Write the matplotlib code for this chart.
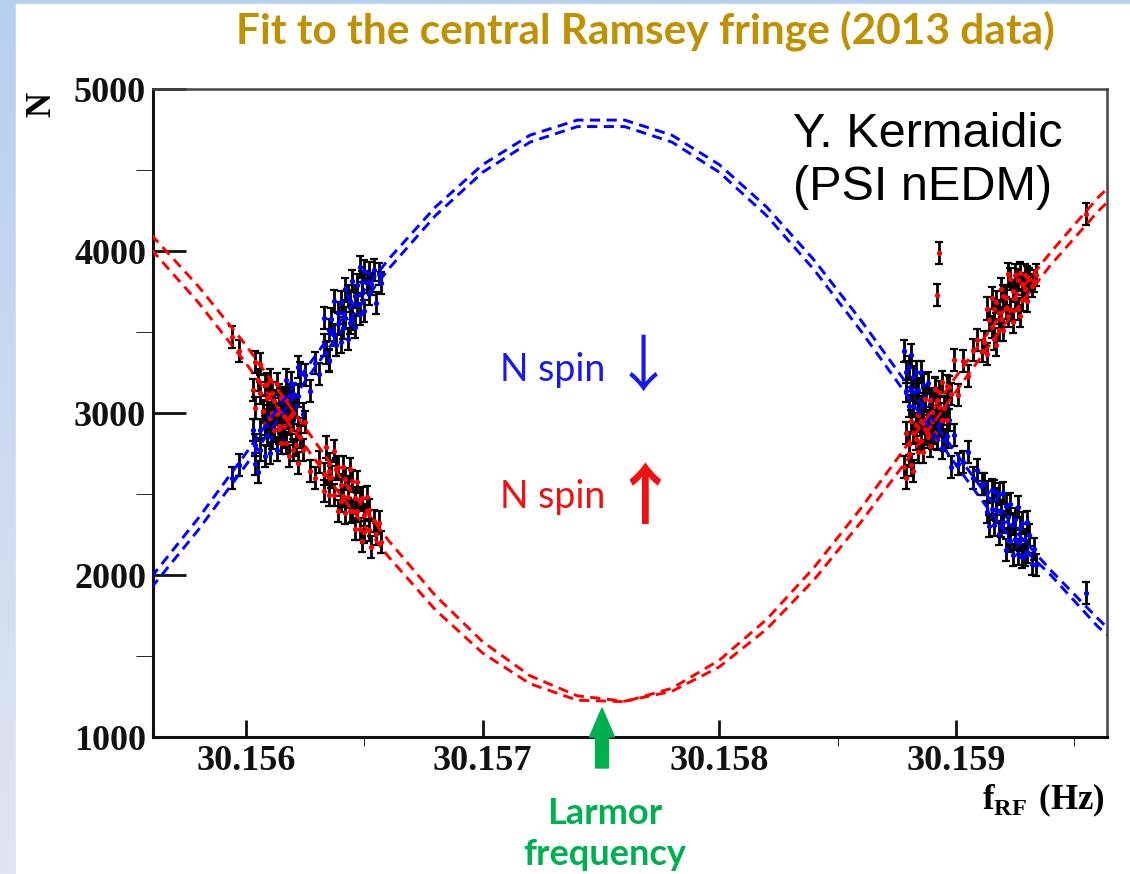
import matplotlib
matplotlib.use("Agg")
import numpy as np
import matplotlib.pyplot as plt
from matplotlib.patches import Rectangle, FancyArrow

plt.rcParams['mathtext.fontset'] = 'custom'
plt.rcParams['mathtext.bf'] = 'Liberation Serif:bold'
plt.rcParams['mathtext.rm'] = 'Liberation Serif:bold'

# --- fit curves (two fits per spin state) ---
f_fit = [30.1556, 30.1558, 30.1560, 30.1562, 30.1564, 30.1566, 30.1568, 30.1570,
         30.1572, 30.1574, 30.1576, 30.1578, 30.1580, 30.1582, 30.1584, 30.1586,
         30.1588, 30.1590, 30.1592, 30.1594, 30.1596, 30.1597]
down_fit1 = [1987, 2353, 2752, 3165, 3569, 3945, 4271, 4533, 4715, 4808, 4808, 4715,
             4533, 4271, 3945, 3569, 3165, 2752, 2353, 2030, 1730, 1590]
down_fit2 = [1921, 2281, 2679, 3094, 3503, 3885, 4218, 4486, 4672, 4768, 4768, 4672,
             4486, 4218, 3885, 3503, 3094, 2679, 2281, 2000, 1680, 1560]
up_fit1 = [4010, 3680, 3307, 2897, 2493, 2116, 1785, 1518, 1329, 1227, 1218, 1301,
           1474, 1726, 2046, 2415, 2815, 3225, 3625, 3992, 4330, 4470]
up_fit2 = [4100, 3780, 3418, 3010, 2602, 2217, 1873, 1588, 1378, 1254, 1221, 1282,
           1433, 1666, 1970, 2330, 2723, 3133, 3537, 3914, 4245, 4386]

# --- measurement cycles: frequency, N spin down, N spin up ---
f_runs = [
    # isolated points on the left
    30.15594, 30.15597,
    # left crossing
    30.15603, 30.15604, 30.15604, 30.15605, 30.15606, 30.15606, 30.15607, 30.15608,
    30.15608, 30.15609, 30.15609, 30.15610, 30.15610, 30.15611, 30.15611, 30.15612,
    30.15612, 30.15613, 30.15613, 30.15614, 30.15614, 30.15615, 30.15615, 30.15616,
    30.15616, 30.15617, 30.15617, 30.15618, 30.15618, 30.15619, 30.15619, 30.15620,
    30.15620, 30.15621, 30.15622, 30.15622, 30.15623, 30.15624, 30.15625, 30.15627,
    30.15629, 30.15631, 30.15633, 30.15635,
    # left working point
    30.15633, 30.15634, 30.15635, 30.15635, 30.15636, 30.15637, 30.15637, 30.15638,
    30.15639, 30.15639, 30.15640, 30.15640, 30.15641, 30.15641, 30.15642, 30.15642,
    30.15643, 30.15643, 30.15644, 30.15644, 30.15645, 30.15645, 30.15646, 30.15646,
    30.15647, 30.15647, 30.15648, 30.15648, 30.15649, 30.15649, 30.15650, 30.15650,
    30.15651, 30.15652, 30.15652, 30.15653, 30.15654, 30.15655, 30.15656, 30.15657,
    # right crossing
    30.15878, 30.15879, 30.15879, 30.15880, 30.15880, 30.15881, 30.15881, 30.15882,
    30.15882, 30.15883, 30.15883, 30.15884, 30.15884, 30.15885, 30.15885, 30.15886,
    30.15886, 30.15887, 30.15887, 30.15888, 30.15888, 30.15889, 30.15889, 30.15890,
    30.15890, 30.15891, 30.15891, 30.15892, 30.15892, 30.15893, 30.15893, 30.15894,
    30.15894, 30.15895, 30.15896, 30.15896, 30.15897, 30.15898, 30.15899, 30.15901,
    30.15903, 30.15905, 30.15907, 30.15909, 30.15911,
    # right working point
    30.15912, 30.15913, 30.15913, 30.15914, 30.15915, 30.15915, 30.15916, 30.15916,
    30.15917, 30.15917, 30.15918, 30.15918, 30.15919, 30.15919, 30.15920, 30.15920,
    30.15921, 30.15921, 30.15922, 30.15922, 30.15923, 30.15923, 30.15924, 30.15924,
    30.15925, 30.15925, 30.15926, 30.15926, 30.15927, 30.15927, 30.15928, 30.15928,
    30.15929, 30.15929, 30.15930, 30.15930, 30.15931, 30.15932, 30.15933, 30.15934,
    # isolated point on the right
    30.15955]
n_down = [
    2600, 2680,
    2894, 2684, 2804, 2634, 2894, 2774, 3004, 2734, 2914, 2864, 2984, 2754, 2914, 2844,
    3064, 2904, 3024, 2774, 2994, 2874, 3114, 2904, 3024, 2854, 3094, 2994, 3204, 2934,
    3114, 3064, 3184, 2954, 3114, 3044, 3284, 3104, 3244, 2994, 3234, 3134,
    3310, 3240, 3420, 3330,
    3584, 3373, 3512, 3322, 3581, 3480, 3690, 3419, 3618, 3548, 3687, 3437, 3616, 3526,
    3765, 3585, 3724, 3454, 3693, 3553, 3812, 3582, 3721, 3531, 3790, 3670, 3899, 3609,
    3808, 3738, 3877, 3627, 3806, 3735, 3865, 3794, 3883, 3682, 3861, 3800,
    3385, 3135, 3255, 3045, 3285, 3145, 3355, 3045, 3225, 3135, 3255, 2985, 3145, 3035,
    3255, 3055, 3175, 2885, 3105, 2945, 3185, 2935, 3055, 2845, 3085, 2945, 3155, 2845,
    3025, 2935, 3055, 2785, 2945, 2835, 3035, 2855, 2955, 2665, 2865, 2685,
    2700, 2760, 2600, 2650, 2560,
    2559, 2391, 2511, 2303, 2525, 2405, 2517, 2307, 2469, 2399, 2501, 2251, 2393, 2303,
    2505, 2325, 2427, 2157, 2359, 2219, 2441, 2211, 2313, 2123, 2345, 2225, 2417, 2127,
    2289, 2219, 2321, 2111, 2213, 2123, 2325, 2145, 2247, 2069, 2161, 2063,
    1890]
n_up = [
    3470, 3380,
    3142, 3312, 3032, 3202, 3122, 3302, 3012, 3172, 2932, 3182, 3092, 2972, 3202, 3002,
    3122, 2892, 3072, 2992, 3182, 2902, 2922, 3092, 2812, 2982, 2922, 3082, 2812, 2972,
    2732, 2982, 2892, 2772, 3002, 2802, 2902, 2692, 2852, 2772, 2942, 2642,
    2600, 2700, 2520, 2640,
    2621, 2792, 2493, 2683, 2604, 2765, 2495, 2656, 2397, 2667, 2558, 2458, 2669, 2489,
    2590, 2380, 2541, 2481, 2652, 2392, 2393, 2583, 2284, 2474, 2395, 2575, 2286, 2466,
    2207, 2477, 2368, 2268, 2479, 2280, 2400, 2171, 2332, 2253, 2324, 2205,
    2669, 2879, 2599, 2809, 2749, 2949, 2679, 2879, 2639, 2929, 2839, 2759, 2989, 2829,
    2949, 2759, 2939, 2899, 3089, 2849, 2869, 3079, 2799, 3009, 2949, 3149, 2879, 3079,
    2839, 3129, 3039, 2959, 3189, 3029, 3169, 2959, 3159, 3119, 3329, 3109,
    3320, 3230, 3390, 3450, 3380,
    3437, 3645, 3365, 3573, 3531, 3711, 3459, 3639, 3417, 3687, 3615, 3515, 3763, 3583,
    3721, 3511, 3709, 3649, 3857, 3597, 3635, 3825, 3563, 3753, 3711, 3851, 3639, 3819,
    3597, 3867, 3795, 3695, 3853, 3763, 3841, 3691, 3829, 3787, 3815, 3850,
    4230]
# two isolated spin-up outliers near 30.1589 Hz
f_out = [30.15893, 30.15892]
n_up_out = [3990, 3730]
n_err = 68

fig = plt.figure(figsize=(11.3, 8.74), dpi=100)

# slide background: light blue strips at left and top
bg = fig.add_axes([0, 0, 1, 1], zorder=-10)
grad = np.linspace(0, 1, 256).reshape(-1, 1)
cmap = matplotlib.colors.LinearSegmentedColormap.from_list('bg', ['#b8cfee', '#dfe6f2'])
bg.imshow(grad, aspect='auto', cmap=cmap, extent=[0, 1, 0, 1], origin='upper')
bg.add_patch(Rectangle((16 / 1130, 0), 1, 1 - 4 / 874, color='white'))
bg.set_xlim(0, 1)
bg.set_ylim(0, 1)
bg.axis('off')

ax = fig.add_axes([153 / 1130, 1 - 737 / 874, 954 / 1130, 648 / 874])

eb = dict(fmt='o', ms=2.8, ecolor='black', elinewidth=2.0, capsize=2.6, capthick=1.6)
ax.errorbar(f_runs, n_down, yerr=n_err, mfc='#0000ff', mec='#0000ff', zorder=2, **eb)
ax.errorbar(f_runs, n_up, yerr=n_err, mfc='#ff0000', mec='#ff0000', zorder=3, **eb)
ax.errorbar(f_out, n_up_out, yerr=n_err, mfc='#ff0000', mec='#ff0000', zorder=3, **eb)

dash = (0, (3.5, 2.2))
ax.plot(f_fit, down_fit1, color='#0000ff', lw=2.1, ls=dash, zorder=4)
ax.plot(f_fit, down_fit2, color='#0000ff', lw=2.1, ls=dash, zorder=4)
ax.plot(f_fit, up_fit1, color='#ff0000', lw=2.1, ls=dash, zorder=4)
ax.plot(f_fit, up_fit2, color='#ff0000', lw=2.1, ls=dash, zorder=4)

ax.set_xlim(30.1556071, 30.159638)
ax.set_ylim(1000, 5000)

xt = [30.156, 30.157, 30.158, 30.159]
ax.set_xticks(xt)
ax.set_xticklabels(['%.3f' % v for v in xt])
ax.set_xticks([30.1565, 30.1575, 30.1585, 30.1595], minor=True)
ax.set_yticks([1000, 2000, 3000, 4000, 5000])
ax.set_yticks([1500, 2500, 3500, 4500], minor=True)

ax.tick_params(axis='both', direction='in', top=False, right=False, width=2, colors='#111111')
ax.tick_params(axis='y', which='major', length=24, pad=5)
ax.tick_params(axis='y', which='minor', length=12)
ax.tick_params(axis='x', which='major', length=12, pad=6)
ax.tick_params(axis='x', which='minor', length=6.5)
for lab in ax.get_xticklabels() + ax.get_yticklabels():
    lab.set_fontfamily('Liberation Serif')
    lab.set_fontweight('bold')
    lab.set_fontsize(26)
    lab.set_color('#111111')

for s in ['left', 'bottom']:
    ax.spines[s].set_linewidth(2.2)
    ax.spines[s].set_color('#111111')
for s in ['top', 'right']:
    ax.spines[s].set_linewidth(1.8)
    ax.spines[s].set_color('#444444')

ax.set_ylabel('N', family='Liberation Serif', fontweight='bold', fontsize=25,
              va='center', ha='center')
ax.yaxis.set_label_coords((42 - 153) / 954, (737 - 104) / 648)
ax.set_xlabel(r'$\mathbf{f}_{\mathbf{RF}}\ \mathbf{(Hz)}$', fontsize=25, va='center', ha='center')
ax.xaxis.set_label_coords((1043 - 153) / 954, (737 - 800) / 648)

def px(x, y):
    return x / 1130, 1 - y / 874

fig.text(*px(645, 31), 'Fit to the central Ramsey fringe (2013 data)', family='Lato',
         fontweight='bold', fontsize=30.5, color='#bf9000', ha='center', va='center')

fig.text(*px(793, 112), 'Y. Kermaidic\n(PSI nEDM)', family='Liberation Sans', fontsize=35,
         color='black', ha='left', va='top', linespacing=1.22)

fig.text(*px(500, 381), 'N spin', family='Lato', fontsize=27, color='#1a1ae6',
         ha='left', va='baseline')
fig.text(*px(643, 386), '\u2193', family=['Noto Sans CJK JP'], fontsize=44, color='#1a1ae6',
         ha='center', va='baseline')
fig.text(*px(500, 508), 'N spin', family='Lato', fontsize=27, color='#ee1111',
         ha='left', va='baseline')
fig.text(*px(645, 518), '\u2191', family=['Noto Sans CJK JP'], fontsize=48,
         color='#ee1111', ha='center', va='baseline', fontweight='bold')

# Larmor frequency marker
x0, y0 = px(602, 768)
x1, y1 = px(602, 708)
fig.patches.append(FancyArrow(x0, y0, 0, y1 - y0, width=10 / 874, head_width=25 / 1130,
                              head_length=29 / 874, length_includes_head=True,
                              color='#00b050', transform=fig.transFigure, figure=fig))
fig.text(*px(605, 834), 'Larmor\nfrequency', family='Lato', fontweight='bold', fontsize=26,
         color='#00b050', ha='center', va='center', linespacing=1.32)

fig.savefig('out.png', dpi=100)
